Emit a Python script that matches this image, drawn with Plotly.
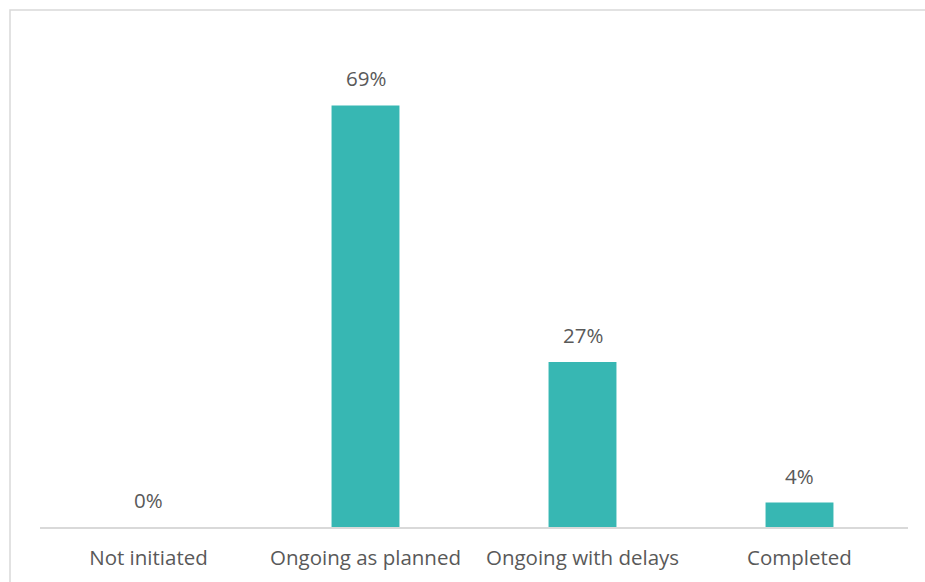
import plotly.graph_objects as go

# Project status shares
categories = ["Not initiated", "Ongoing as planned", "Ongoing with delays", "Completed"]
shares = [0, 69, 27, 4]
share_labels = ["0%", "69%", "27%", "4%"]

BAR_COLOR = "#37B7B3"
TEXT_COLOR = "#595959"
LINE_COLOR = "#D9D9D9"
FONT = "Open Sans"
FONT_SIZE = 20.5

W, H = 925, 582
M_L, M_R, M_T, M_B = 40, 17, 70, 55
plot_h = H - M_T - M_B

fig = go.Figure(
    go.Bar(
        x=categories,
        y=shares,
        marker=dict(color=BAR_COLOR, line=dict(width=0)),
        width=0.313,
        hoverinfo="skip",
    )
)

# value labels above each bar
for cat, val, lab in zip(categories, shares, share_labels):
    fig.add_annotation(
        x=cat, y=val, text=lab, showarrow=False,
        yanchor="bottom", yshift=11,
        font=dict(family=FONT, size=FONT_SIZE, color=TEXT_COLOR),
    )

# outer chart frame
fig.add_shape(
    type="rect", xref="paper", yref="paper",
    x0=(10 - M_L) / (W - M_L - M_R), x1=1.2,
    y0=-0.3, y1=(H - M_B - 10) / plot_h,
    line=dict(color=LINE_COLOR, width=1.5),
    fillcolor="rgba(0,0,0,0)", layer="below",
)

fig.update_layout(
    width=W, height=H,
    margin=dict(l=M_L, r=M_R, t=M_T, b=M_B),
    paper_bgcolor="white", plot_bgcolor="white",
    showlegend=False,
    bargap=0.687,
    font=dict(family=FONT, size=FONT_SIZE, color=TEXT_COLOR),
    xaxis=dict(
        showline=True, linecolor=LINE_COLOR, linewidth=1.5,
        showgrid=False, ticks="", ticklabelstandoff=12,
        tickfont=dict(family=FONT, size=FONT_SIZE, color=TEXT_COLOR),
        fixedrange=True,
    ),
    yaxis=dict(
        range=[0, 74.8], visible=False, showgrid=False, zeroline=False,
        fixedrange=True,
    ),
)

fig.write_html("out.html", config={"displayModeBar": False})
